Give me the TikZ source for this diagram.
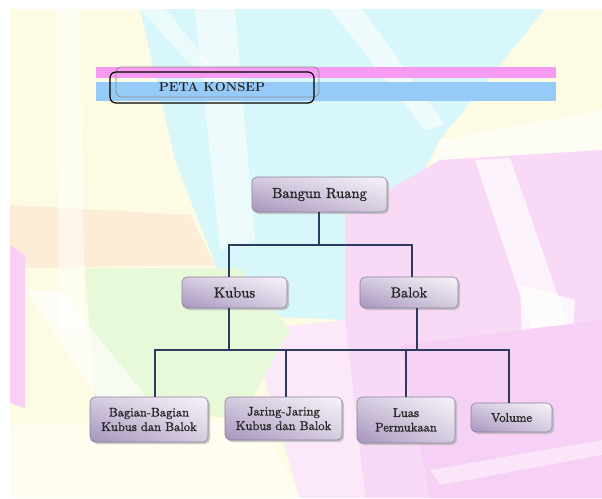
\documentclass[tikz,border=0pt]{standalone}
\usepackage{fontspec}
\newfontfamily\boxfont{lmroman10-regular.otf}[FakeBold=1.3]
\usetikzlibrary{calc,shadings}
\definecolor{bgyellow}{HTML}{FEFBE4}
\definecolor{bgcyan}{HTML}{D8F7FA}
\definecolor{bgpink}{HTML}{F9DAF6}
\definecolor{bgpink2}{HTML}{F7D0F5}
\definecolor{bgpeach}{HTML}{FDEDD6}
\definecolor{bggreen}{HTML}{E8F9DA}
\definecolor{pinkbar}{HTML}{F79BF2}
\definecolor{bluebar}{HTML}{96CAF7}
\definecolor{linecol}{HTML}{2E3A5E}
\definecolor{boxdark}{HTML}{A594BC}
\definecolor{boxmid}{HTML}{D6CCE0}
\definecolor{boxlight}{HTML}{F7F3F9}
\definecolor{boxedge}{HTML}{8E809E}
\definecolor{txt}{HTML}{262626}
\tikzset{
  conceptbox/.style={rectangle, rounded corners=5pt, draw=boxedge, line width=0.6pt,
    upper left=boxmid, upper right=boxlight, lower left=boxdark, lower right=boxmid,
    text=txt, align=center, inner sep=0pt},
  conn/.style={draw=linecol, line width=1.4pt},
  bigfont/.style={font=\boxfont\fontsize{14.5}{17}\selectfont},
  midfont/.style={font=\boxfont\fontsize{14.5}{17}\selectfont},
  smallfont/.style={font=\boxfont\fontsize{12.5}{14.5}\selectfont}
}
\begin{document}
\begin{tikzpicture}[x=1pt,y=-1pt]
\useasboundingbox (0,0) rectangle (602,498);
\fill[white] (0,0) rectangle (602,498);
% ---------- background ----------
\begin{scope}
\clip (10,9) rectangle (602,498);
\fill[bgyellow] (10,9) rectangle (602,498);
\fill[bgpeach] (10,205) -- (190,215) -- (215,265) -- (10,268) -- cycle;
\fill[white,opacity=0.5] (55,9) -- (80,9) -- (85,330) -- (60,330) -- cycle;
\fill[bgcyan] (140,9) -- (545,9) -- (440,140) -- (345,320) -- (235,315) -- (175,160) -- cycle;
\fill[white,opacity=0.55] (195,9) -- (235,9) -- (255,240) -- (220,250) -- cycle;
\fill[white,opacity=0.6] (330,9) -- (362,9) -- (445,125) -- (425,130) -- cycle;
\fill[white,opacity=0.5] (140,9) -- (165,9) -- (215,70) -- (200,75) -- cycle;
\fill[white,opacity=0.6] (440,140) -- (602,110) -- (602,160) -- (430,175) -- cycle;
\fill[bgpink] (345,215) -- (440,160) -- (602,150) -- (602,498) -- (365,498) -- (345,320) -- cycle;
\fill[white,opacity=0.65] (475,160) -- (510,158) -- (570,330) -- (535,340) -- cycle;
\fill[white,opacity=0.75] (520,285) -- (575,300) -- (572,345) -- (522,338) -- cycle;
\fill[bgpink!60!white] (250,330) -- (345,320) -- (365,498) -- (300,498) -- cycle;
\fill[bggreen] (85,268) -- (240,268) -- (290,330) -- (240,420) -- (95,400) -- cycle;
\fill[white,opacity=0.65] (25,290) -- (60,290) -- (165,420) -- (120,430) -- cycle;
\fill[bgyellow!60!white] (10,425) -- (260,420) -- (300,498) -- (10,498) -- cycle;
\fill[bgpink2] (10,245) -- (25,255) -- (25,408) -- (10,403) -- cycle;
\fill[bgpink2] (400,345) -- (602,320) -- (602,498) -- (430,498) -- cycle;
\fill[white,opacity=0.45] (430,470) -- (602,440) -- (602,455) -- (440,485) -- cycle;
\end{scope}
% ---------- header ----------
\fill[pinkbar] (96,67) rectangle (556,78);
\fill[bluebar] (96,82) rectangle (556,101);
\draw[black!45, rounded corners=5pt, line width=0.8pt] (116,67) rectangle (319,97);
\draw[black, rounded corners=6pt, line width=1.2pt] (110,72) rectangle (314,103);
\node[font=\fontsize{13}{15}\selectfont\bfseries, text=txt] (title) at (212,87) {PETA KONSEP};
% ---------- shadows ----------
\foreach \cx/\cy/\w/\h in {319.5/194.5/135/35, 234.5/292.5/105/31, 409/292.5/98/31,
  149/419.5/118/45, 283.5/418.5/117/43, 406/420/98/46, 511.5/417.5/81/29}
  \fill[black!30, rounded corners=5pt, opacity=0.7] (\cx-\w/2+2,\cy-\h/2+2) rectangle (\cx+\w/2+2,\cy+\h/2+2);
% ---------- nodes ----------
\node[conceptbox, bigfont, minimum width=135pt, minimum height=35pt] (br) at (319.5,194.5) {Bangun Ruang};
\node[conceptbox, midfont, minimum width=105pt, minimum height=31pt] (kubus) at (234.5,292.5) {Kubus};
\node[conceptbox, midfont, minimum width=98pt, minimum height=31pt] (balok) at (409,292.5) {Balok};
\node[conceptbox, smallfont, minimum width=118pt, minimum height=45pt] (bag) at (149,419.5) {Bagian-Bagian\\Kubus dan Balok};
\node[conceptbox, smallfont, minimum width=117pt, minimum height=43pt] (jar) at (283.5,418.5) {Jaring-Jaring\\Kubus dan Balok};
\node[conceptbox, smallfont, minimum width=98pt, minimum height=46pt] (luas) at (406,420) {Luas\\Permukaan};
\node[conceptbox, smallfont, minimum width=81pt, minimum height=29pt] (vol) at (511.5,417.5) {Volume};
% ---------- connectors ----------
\coordinate (j1) at (319,245);
\coordinate (jk) at (229,245);
\coordinate (jb) at (412,245);
\coordinate (kd) at (229,350);
\coordinate (bd) at (417,350);
\coordinate (c1) at (155,350);
\coordinate (c2) at (286,350);
\coordinate (c3) at (406,350);
\coordinate (c4) at (509,350);
\draw[conn] (br.south -| j1) -- (j1);
\draw[conn] (kubus.north -| jk) |- (jb) -- (balok.north -| jb);
\draw[conn] (kubus.south -| kd) -- (kd);
\draw[conn] (balok.south -| bd) -- (bd);
\draw[conn] (bag.north -| c1) |- (c4) -- (vol.north -| c4);
\draw[conn] (jar.north -| c2) -- (c2);
\draw[conn] (luas.north -| c3) -- (c3);
\end{tikzpicture}
\end{document}
